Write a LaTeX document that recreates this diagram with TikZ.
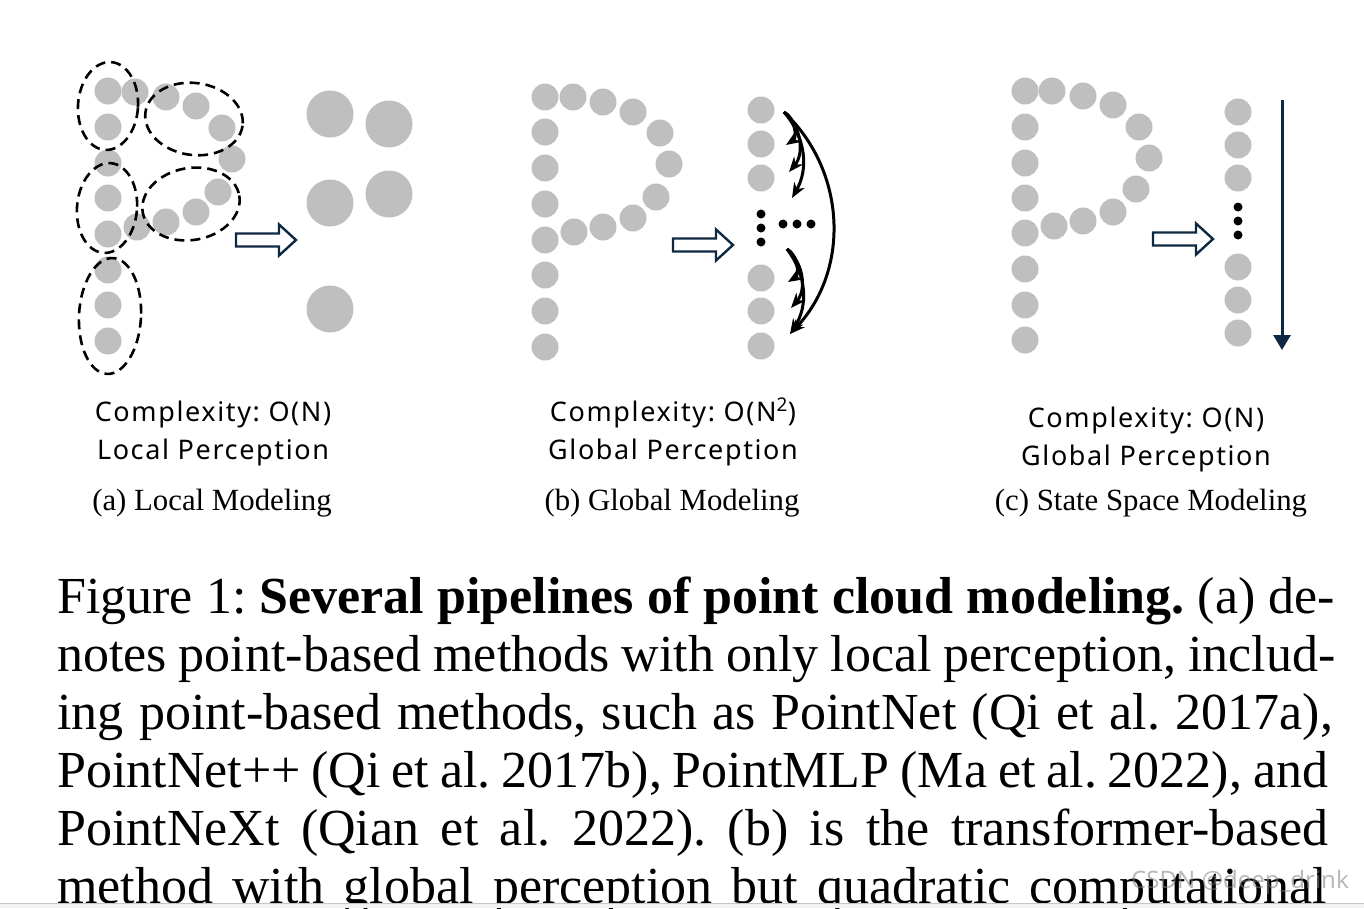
\documentclass[tikz,border=0pt]{standalone}
\usepackage{fontspec}
\setmainfont{Liberation Serif}
\newfontfamily\lblfont[LetterSpace=6]{Noto Sans}
\newfontfamily\wmfont{Noto Sans}
\usetikzlibrary{arrows.meta}
\definecolor{dotgray}{RGB}{191,191,191}
\definecolor{navy}{RGB}{14,40,65}
\tikzset{pics/hollowarr/.style={code={%
  \draw[hollow] (0,-6.5) -- (43,-6.5) -- (43,-15.5) -- (60,0) -- (43,15.5) -- (43,6.5) -- (0,6.5) -- cycle;}}}
\frenchspacing
\begin{document}
\begin{tikzpicture}[x=1pt,y=-1pt,
  gdot/.style={circle,fill=dotgray,inner sep=0,minimum size=27pt},
  bigdot/.style={circle,fill=dotgray,inner sep=0,minimum size=47pt},
  bdot/.style={circle,fill=black,inner sep=0,minimum size=9pt},
  grp/.style={draw=black,line width=2.6pt,dash pattern=on 10pt off 6pt},
  hollow/.style={draw=navy,line width=2.4pt,fill=white,line join=miter},
  attn/.style={draw=black,line width=3pt,-{Stealth[length=15pt,width=12pt]}},
  scan/.style={draw=navy,line width=3pt,-{Triangle[length=15pt,width=17pt]}},
  lbl/.style={font=\lblfont\fontsize{27}{32}\selectfont,inner sep=0,anchor=base},
  sub/.style={font=\fontsize{30.8}{36}\selectfont,inner sep=0,anchor=base},
  capline/.style={font=\fontsize{52}{58}\selectfont,inner sep=0,anchor=base west},
]
\useasboundingbox (0,0) rectangle (1364,908);
\clip (0,0) rectangle (1364,908);

% ---------- panel (a) ----------
\foreach \x/\y [count=\i] in {108/91,108/127,108/163,108/198,108/234,108/270,108/305,108/341,
  135/92,166/97,196/106,222/128,232/159,218/192,196/212,166/222,137/227}
  \node[gdot] (pa\i) at (\x,\y) {};
\draw[grp, rotate around={-4:(108,106)}] (108,106) ellipse [x radius=30, y radius=44];
\draw[grp, rotate around={-8:(194,119)}] (194,119) ellipse [x radius=49, y radius=36];
\draw[grp, rotate around={-5:(107,208)}] (107,208) ellipse [x radius=30, y radius=45];
\draw[grp, rotate around={10:(191,204)}] (191,204) ellipse [x radius=49, y radius=36];
\draw[grp, rotate around={-3:(110,316)}] (110,316) ellipse [x radius=31, y radius=58];
\pic (ha) at (236,240) {hollowarr};
\foreach \x/\y [count=\i] in {330/114,389/124,330/203,389/194,330/309}
  \node[bigdot] (ba\i) at (\x,\y) {};

% ---------- panel (b) ----------
\foreach \x/\y [count=\i] in {545/97,545/132,545/168,545/204,545/240,545/275,545/311,545/347,
  573/97,603/102,633/112,660/133,669/164,656/197,633/218,603/227,574/232}
  \node[gdot] (pb\i) at (\x,\y) {};
\pic (hb) at (673,245) {hollowarr};
\foreach \y [count=\i] in {110,144,178,278,311,346}
  \node[gdot] (rb\i) at (761,\y) {};
\foreach \x/\y [count=\i] in {761/214,761/228,761/242,783/224,797/224,811/224}
  \node[bdot] (kb\i) at (\x,\y) {};
\coordinate (s1) at (784,112);
\coordinate (s2) at (787,249);
\coordinate (t1) at (786,145);
\coordinate (t2) at (789,172);
\coordinate (t3) at (792,198);
\coordinate (t4) at (788,282);
\coordinate (t5) at (791,308);
\coordinate (t6) at (790,334);
\draw[attn] (s1) to[bend left=60] (t1);
\draw[attn] (s1) to[bend left=45] (t2);
\draw[attn] (s1) to[bend left=35] (t3);
\draw[attn] (s1) to[bend left=45] (t6);
\draw[attn] (s2) to[bend left=60] (t4);
\draw[attn] (s2) to[bend left=45] (t5);
\draw[attn] (s2) to[bend left=35] (t6);

% ---------- panel (c) ----------
\foreach \x/\y [count=\i] in {1025/91,1025/127,1025/163,1025/198,1025/233,1025/269,1025/305,1025/340,
  1052/91,1083/96,1113/105,1139/127,1149/158,1136/189,1113/212,1083/221,1054/226}
  \node[gdot] (pc\i) at (\x,\y) {};
\pic (hc) at (1153,239) {hollowarr};
\foreach \y [count=\i] in {112,145,178,267,300,333}
  \node[gdot] (rc\i) at (1238,\y) {};
\foreach \y [count=\i] in {207,221,235}
  \node[bdot] (kc\i) at (1238,\y) {};
\coordinate (ctop) at (1282,100);
\coordinate (cbot) at (1282,350);
\draw[scan] (ctop) -- (cbot);

% ---------- labels ----------
\node[lbl] (la1) at (213,421) {Complexity: O(N)};
\node[lbl] (la2) at (213,459) {Local Perception};
\node[sub] (sa) at (212,510) {(a) Local Modeling};
\node[lbl] (lb1) at (673,421) {Complexity: O(N\textsuperscript{2})};
\node[lbl] (lb2) at (673,459) {Global Perception};
\node[sub] (sb) at (672,510) {(b) Global Modeling};
\node[lbl] (lc1) at (1146,427) {Complexity: O(N)};
\node[lbl] (lc2) at (1146,465) {Global Perception};
\node[sub] (sc) at (1151,510) {(c) State Space Modeling};

% ---------- caption ----------
\node[capline] (c1) at (57,613) {\makebox[1278pt][s]{Figure 1: \textbf{Several pipelines of point cloud modeling.} (a) de-}};
\node[capline] (c2) at (57,671) {\makebox[1278pt][s]{notes point-based methods with only local perception, includ-}};
\node[capline] (c3) at (57,729) {\makebox[1276pt][s]{ing point-based methods, such as PointNet (Qi et al. 2017a),}};
\node[capline] (c4) at (57,787) {\makebox[1271pt][s]{PointNet++ (Qi et al. 2017b), PointMLP (Ma et al. 2022), and}};
\node[capline] (c5) at (57,845) {\makebox[1271pt][s]{PointNeXt (Qian et al. 2022). (b) is the transformer-based}};
\node[capline] (c6) at (57,903) {\makebox[1270pt][s]{method with global perception but quadratic computational}};

\node[font=\wmfont\fontsize{24}{28}\selectfont, text=gray, opacity=0.55, inner sep=0, anchor=base west] (wm) at (1131,888) {CSDN @deep\_drink};

\fill[gray!10] (0,903) rectangle (1364,908);
\draw[gray!45, line width=1.2pt] (0,903.5) -- (1364,903.5);
\end{tikzpicture}
\end{document}
